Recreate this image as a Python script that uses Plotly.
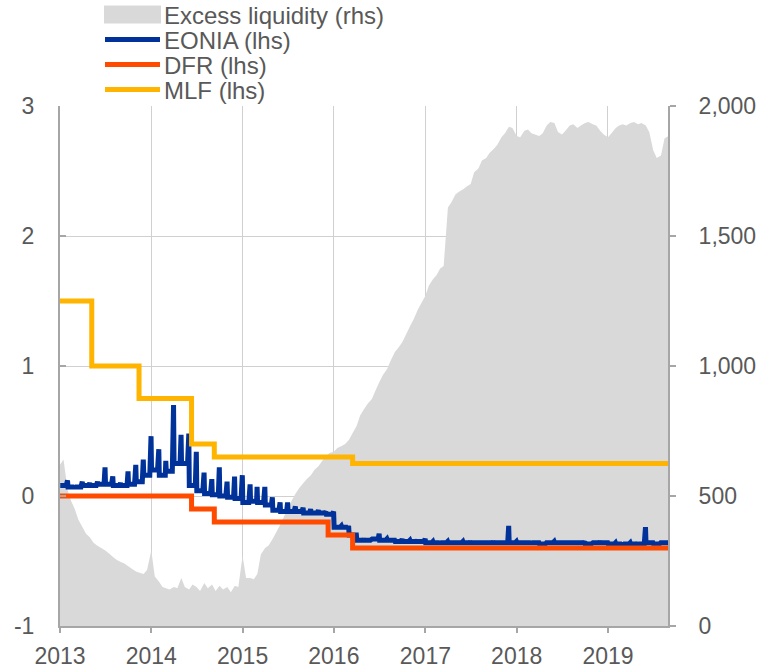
import pandas as pd
import plotly.graph_objects as go

# ---------------- data ----------------
years = ["2013", "2014", "2015", "2016", "2017", "2018", "2019"]

# Excess liquidity (EUR bn), values on the 1st and 15th of each month, Jan 2013 - Aug 2019, + 1 Sep 2019
excess_liquidity = [
    # 2013
    620, 640, 520, 480, 450, 410, 380, 355, 340, 320, 308, 300,
    290, 280, 265, 255, 246, 240, 230, 220, 210, 205, 200, 215,
    # 2014
    290, 190, 170, 150, 145, 140, 150, 145, 185, 150, 140, 160,
    150, 135, 165, 145, 160, 135, 155, 140, 150, 130, 155, 150,
    # 2015
    270, 185, 185, 180, 200, 275, 300, 310, 335, 360, 390, 420,
    450, 480, 510, 530, 550, 565, 580, 600, 615, 635, 655, 665,
    # 2016
    670, 685, 692, 700, 715, 740, 769, 810, 835, 855, 873, 905,
    938, 965, 988, 1020, 1054, 1070, 1092, 1120, 1154, 1180, 1215, 1240,
    # 2017
    1270, 1310, 1335, 1350, 1375, 1385, 1610, 1630, 1660, 1670, 1680, 1690,
    1700, 1745, 1760, 1790, 1800, 1820, 1835, 1850, 1880, 1895, 1920, 1915,
    # 2018
    1885, 1880, 1905, 1910, 1895, 1890, 1885, 1895, 1925, 1938, 1935, 1900,
    1890, 1905, 1925, 1930, 1915, 1925, 1935, 1938, 1930, 1925, 1905, 1890,
    # 2019
    1880, 1895, 1915, 1925, 1930, 1925, 1935, 1938, 1930, 1935, 1925, 1900,
    1830, 1800, 1810, 1875,
    # 1 Sep 2019
    1885,
]

# EONIA (%): typical level during the month and month-end value, Jan 2013 - Aug 2019
eonia_base = [
    0.08, 0.07, 0.07, 0.08, 0.08, 0.09, 0.09, 0.08, 0.08, 0.09, 0.11, 0.16,   # 2013
    0.20, 0.16, 0.19, 0.25, 0.25, 0.08, 0.04, 0.02, 0.01, 0.00, -0.01, -0.02,  # 2014
    -0.05, -0.04, -0.05, -0.07, -0.11, -0.12, -0.12, -0.12, -0.13, -0.13, -0.13, -0.14,  # 2015
    -0.24, -0.24, -0.30, -0.34, -0.34, -0.33, -0.34, -0.34, -0.35, -0.35, -0.35, -0.35,  # 2016
    -0.36, -0.36, -0.36, -0.36, -0.36, -0.36, -0.36, -0.36, -0.36, -0.36, -0.36, -0.36,  # 2017
    -0.36, -0.36, -0.36, -0.37, -0.36, -0.36, -0.36, -0.36, -0.36, -0.37, -0.36, -0.36,  # 2018
    -0.37, -0.37, -0.37, -0.37, -0.37, -0.36, -0.37, -0.36,                            # 2019
]
eonia_month_end = [
    0.12, 0.08, 0.11, 0.10, 0.11, 0.22, 0.15, 0.10, 0.19, 0.24, 0.28, 0.46,   # 2013
    0.36, 0.27, 0.70, 0.47, 0.48, 0.34, 0.18, 0.13, 0.22, 0.11, 0.15, 0.16,   # 2014
    0.09, 0.07, 0.07, -0.01, -0.05, -0.05, -0.08, -0.09, -0.10, -0.11, -0.12, -0.12,  # 2015
    -0.23, -0.23, -0.30, -0.33, -0.33, -0.29, -0.33, -0.34, -0.33, -0.34, -0.34, -0.33,  # 2016
    -0.35, -0.35, -0.35, -0.36, -0.35, -0.35, -0.36, -0.36, -0.35, -0.36, -0.23, -0.35,  # 2017
    -0.36, -0.35, -0.36, -0.36, -0.35, -0.36, -0.36, -0.36, -0.35, -0.36, -0.35, -0.36,  # 2018
    -0.36, -0.36, -0.36, -0.36, -0.24, -0.36, -0.36, -0.36,                            # 2019
]

# Policy rates (%): dates of change and new level
dfr_dates = ["2013-01-01", "2014-06-11", "2014-09-10", "2015-12-09", "2016-03-16", "2019-09-01"]
dfr_values = [0.00, -0.10, -0.20, -0.30, -0.40, -0.40]
mlf_dates = ["2013-01-01", "2013-05-08", "2013-11-13", "2014-06-11", "2014-09-10", "2016-03-16", "2019-09-01"]
mlf_values = [1.50, 1.00, 0.75, 0.40, 0.30, 0.25, 0.25]

left_ticks = [-1, 0, 1, 2, 3]
left_tick_labels = ["-1", "0", "1", "2", "3"]
right_ticks = [0, 500, 1000, 1500, 2000]

# ---------------- build x coordinates ----------------
months = pd.period_range("2013-01", "2019-08", freq="M")
el_dates = []
for m in months:
    el_dates.append(f"{m}-01")
    el_dates.append(f"{m}-15")
el_dates.append("2019-09-01")

eo_x, eo_y = [], []
for m, b, e in zip(months, eonia_base, eonia_month_end):
    start = m.start_time
    eo_x += [start + pd.Timedelta(days=1), start + pd.Timedelta(days=25), m.end_time.normalize()]
    eo_y += [b, b, e]

# ---------------- figure ----------------
TXT = "#595959"
AX = "#A6A6A6"
GRID = "#D0D0D0"
FONT = "Liberation Sans, Arial, sans-serif"
FS = 23
FS_LEG = 24

C_EL = "#D9D9D9"
C_EONIA = "#003299"
C_DFR = "#FF4B00"
C_MLF = "#FFB400"
LW = 5

fig = go.Figure()
fig.add_trace(go.Scatter(x=el_dates, y=excess_liquidity, mode="none", fill="tozeroy",
                         fillcolor=C_EL, yaxis="y", name="Excess liquidity (rhs)",
                         showlegend=False, hoverinfo="skip"))
fig.add_trace(go.Scatter(x=eo_x, y=eo_y, mode="lines", line=dict(color=C_EONIA, width=LW),
                         yaxis="y2", name="EONIA (lhs)", showlegend=False))
fig.add_trace(go.Scatter(x=dfr_dates, y=dfr_values, mode="lines", line=dict(color=C_DFR, width=LW, shape="hv"),
                         yaxis="y2", name="DFR (lhs)", showlegend=False))
fig.add_trace(go.Scatter(x=mlf_dates, y=mlf_values, mode="lines", line=dict(color=C_MLF, width=LW, shape="hv"),
                         yaxis="y2", name="MLF (lhs)", showlegend=False))

W, H = 767, 668
ML, MR, MT, MB = 60, 99, 106, 42
PW, PH = W - ML - MR, H - MT - MB


def px(xp):
    return (xp - ML) / PW


def py(yp):
    return (H - MB - yp) / PH


# manual legend
shapes = [
    dict(type="rect", xref="paper", yref="paper", x0=px(104), x1=px(161), y0=py(23.5), y1=py(5.5),
         fillcolor=C_EL, line=dict(width=0)),
]
legend_rows = [("EONIA (lhs)", C_EONIA, 39.5), ("DFR (lhs)", C_DFR, 64.5), ("MLF (lhs)", C_MLF, 89.5)]
for _, col, yy in legend_rows:
    shapes.append(dict(type="line", xref="paper", yref="paper", x0=px(105), x1=px(160), y0=py(yy), y1=py(yy),
                       line=dict(color=col, width=LW)))
annotations = []
for text, yy in [("Excess liquidity (rhs)", 14.5)] + [(t, yy) for t, _, yy in legend_rows]:
    annotations.append(dict(text=text, xref="paper", yref="paper", x=px(162), y=py(yy + 1),
                            xanchor="left", yanchor="middle", showarrow=False,
                            font=dict(family=FONT, size=FS_LEG, color=TXT)))

fig.update_layout(
    width=W, height=H,
    margin=dict(l=ML, r=MR, t=MT, b=MB, autoexpand=False),
    paper_bgcolor="white", plot_bgcolor="white",
    font=dict(family=FONT, size=FS, color=TXT),
    showlegend=False,
    shapes=shapes,
    annotations=annotations,
    xaxis=dict(type="date", range=["2013-01-01", "2019-08-29"],
               tickvals=[f"{y}-01-01" for y in years], ticktext=years,
               showgrid=True, gridcolor=GRID, gridwidth=1,
               showline=True, linecolor=AX, linewidth=2,
               ticks="outside", ticklen=5, tickcolor=AX, tickwidth=1.5,
               ticklabelstandoff=3,
               zeroline=False, automargin=False, tickfont=dict(size=FS, color=TXT)),
    yaxis=dict(side="right", range=[0, 2000], tickvals=right_ticks, tickformat=",",
               showgrid=True, gridcolor=GRID, gridwidth=1,
               showline=True, linecolor=AX, linewidth=2,
               ticks="outside", ticklen=6, tickcolor=AX, tickwidth=1.5,
               ticklabelstandoff=18, zeroline=False, automargin=False,
               tickfont=dict(size=FS, color=TXT)),
    yaxis2=dict(side="left", overlaying="y", range=[-1, 3], tickvals=left_ticks, ticktext=left_tick_labels,
                showgrid=False, zeroline=False,
                showline=True, linecolor=AX, linewidth=2,
                ticks="inside", ticklen=6, tickcolor=AX, tickwidth=1.5,
                ticklabelstandoff=19, automargin=False, tickfont=dict(size=FS, color=TXT)),
)

fig.write_html("out.html", config={"displayModeBar": False},
               post_script="document.body.style.margin='0';document.body.style.overflow='hidden';")
